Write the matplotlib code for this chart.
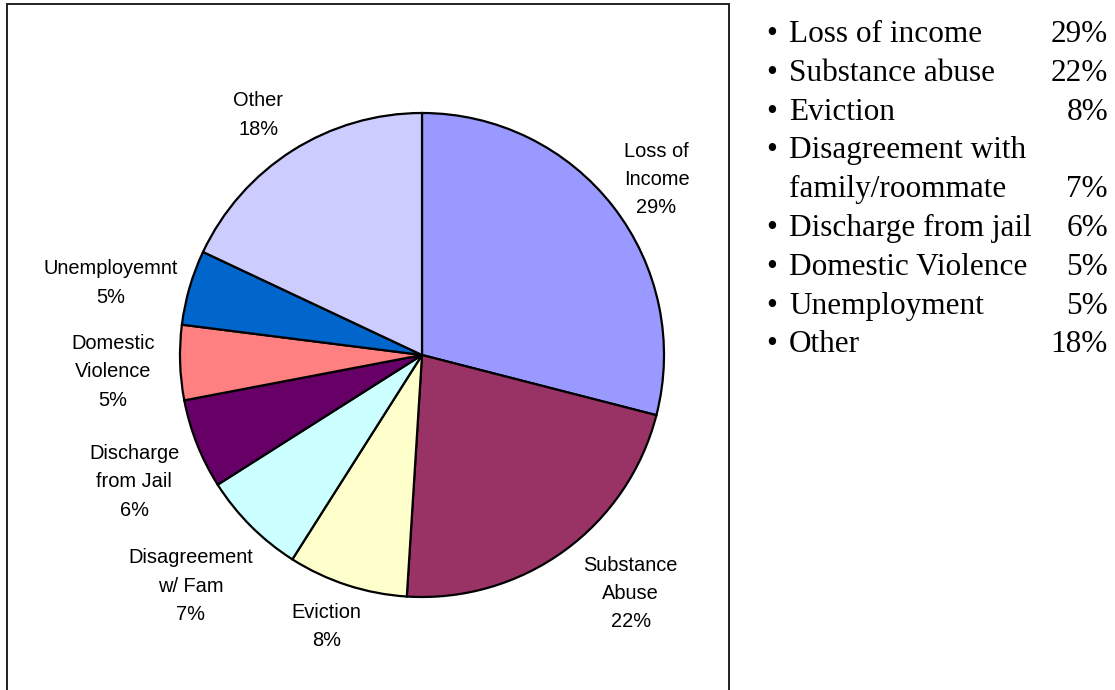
import numpy as np
import matplotlib
matplotlib.use("Agg")
import matplotlib.pyplot as plt
from matplotlib.patches import Rectangle

# Reasons for homelessness, share of respondents (%)
slice_labels = ["Loss of\nIncome", "Substance\nAbuse", "Eviction", "Disagreement\nw/ Fam",
                "Discharge\nfrom Jail", "Domestic\nViolence", "Unemployemnt", "Other"]
shares = [29, 22, 8, 7, 6, 5, 5, 18]
slice_colors = ["#9999FF", "#993366", "#FFFFCC", "#CCFFFF",
                "#660066", "#FF8080", "#0066CC", "#CCCCFF"]

# Summary list beside the chart
list_items = ["Loss of income", "Substance abuse", "Eviction", "Disagreement with\nfamily/roommate",
              "Discharge from jail", "Domestic Violence", "Unemployment", "Other"]
list_pcts = ["29%", "22%", "8%", "7%", "6%", "5%", "5%", "18%"]

# label placement: radial factor and small angular nudge (degrees)
label_r = [1.21, 1.31, 1.19, 1.35, 1.30, 1.28, 1.32, 1.20]
label_nudge = [-1.0, 5.2, -1.4, 0.0, 2.2, 1.3, 3.2, 1.9]

W, H = 1115, 690
fig = plt.figure(figsize=(W / 100, H / 100), dpi=100)
fig.patch.set_facecolor("white")

# chart frame (open at the bottom edge of the page)
frame = Rectangle((7 / W, -0.05), (729 - 7) / W, (H - 4) / H + 0.05,
                  transform=fig.transFigure, fill=False, edgecolor="#222222",
                  linewidth=1.4)
fig.add_artist(frame)

# pie axes: centre (422, 355) px, radius 242 px
R = 242.0
cx, cy = 422.0, H - 355.0
k = 1.45
side = 2 * k * R
ax = fig.add_axes([(cx - side / 2) / W, (cy - side / 2) / H, side / W, side / H])

wedges, _ = ax.pie(shares, colors=slice_colors, startangle=90, counterclock=False,
                   radius=1.0, wedgeprops=dict(edgecolor="black", linewidth=1.6))
ax.set_xlim(-k, k)
ax.set_ylim(-k, k)
ax.set_aspect("auto")
ax.axis("off")

for w, lab, val, rf, nd in zip(wedges, slice_labels, shares, label_r, label_nudge):
    mid = np.deg2rad((w.theta1 + w.theta2) / 2 + nd)
    ax.text(rf * np.cos(mid), rf * np.sin(mid), f"{lab}\n{val}%",
            ha="center", va="center", fontsize=14.4, linespacing=1.62,
            family="Liberation Sans", color="black", clip_on=False)

# right-hand bullet list
serif = "Liberation Serif"
fs = 22.5
base0 = 42.0
step = 38.8
line = 0
for item, pct in zip(list_items, list_pcts):
    parts = item.split("\n")
    for j, part in enumerate(parts):
        y = 1 - (base0 + step * line) / H
        if j == 0:
            fig.text(766 / W, y, "\u2022", ha="left", va="baseline",
                     fontsize=fs, family=serif)
        fig.text(789 / W, y, part, ha="left", va="baseline", fontsize=fs, family=serif)
        if j == len(parts) - 1:
            fig.text(1108 / W, y, pct, ha="right", va="baseline", fontsize=fs, family=serif)
        line += 1

fig.savefig("out.png", dpi=100, facecolor="white")
